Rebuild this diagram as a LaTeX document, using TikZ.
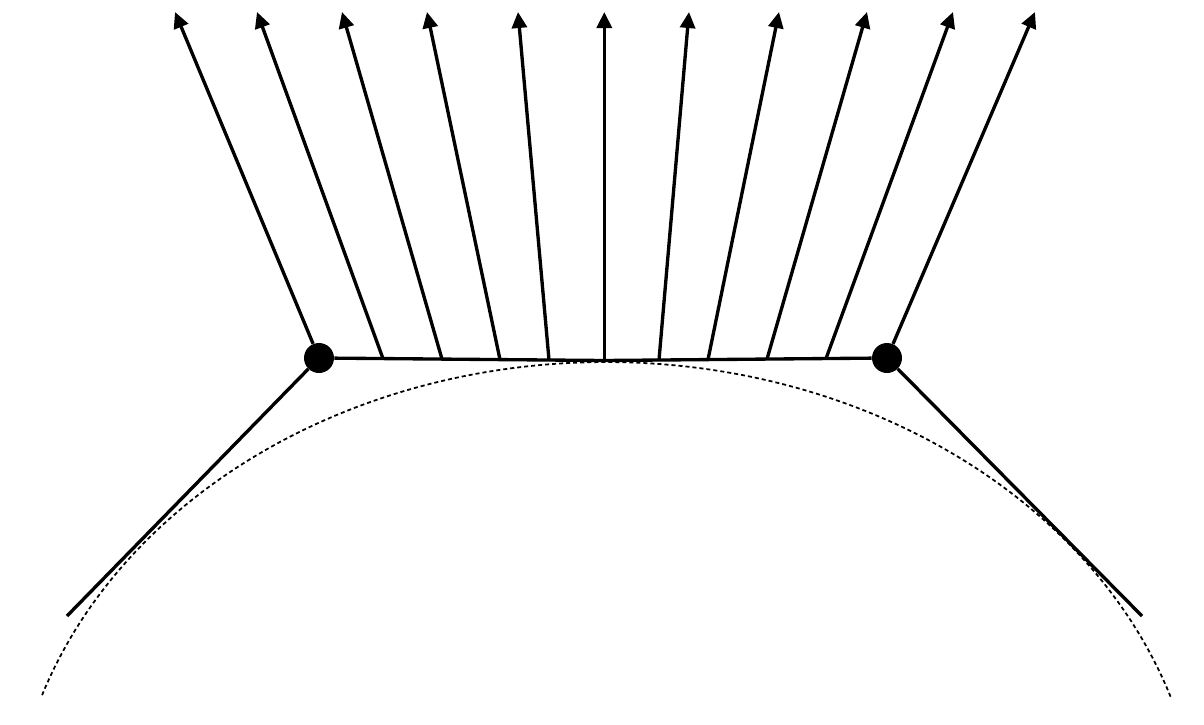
\documentclass[tikz,border=0pt]{standalone}
\usetikzlibrary{arrows.meta}
\begin{document}
\begin{tikzpicture}[x=0.02cm, y=-0.02cm,
			edge/.style={line width=1.9pt},
			normal/.style={line width=1.9pt, -{Triangle[length=0.32cm, width=0.3cm]}},
			vertex/.style={shape=circle, fill, inner sep=0pt, minimum size=0.6cm},
			surface/.style={line width=1pt, dash pattern=on 2.3pt off 1.7pt}]

			\useasboundingbox (0,0) rectangle (1204,724);

			% surface
			\draw[surface] plot[domain=18.4:161.6, samples=120] ({606+595*cos(\x)}, {851-489*sin(\x)});

			\node[vertex] (vl) at (319,358) {};
			\node[vertex] (vr) at (887,358) {};
			\coordinate (mid) at (604,360.5);
			\coordinate (el) at (67,616);
			\coordinate (er) at (1142,616);
			\coordinate (tl) at (175,12);
			\coordinate (tr) at (1035,12);

			\draw[edge] (vl) -- (mid) -- (vr);
			\draw[edge] (vl) -- (el);
			\draw[edge] (vr) -- (er);

			% interpolated normals
			\draw[normal] (vl) -- (tl);
			\draw[normal] (vr) -- (tr);
			\foreach \bx/\by/\tx [count=\i] in {383/358.6/257, 442/359.1/342, 500/359.6/427, 549/360/518,
					604.3/360.5/604.3, 659/360/689, 708/359.6/779, 767/359.1/867, 826/358.6/953}
			{
				\coordinate (b\i) at (\bx,\by);
				\coordinate (t\i) at (\tx,12);
				\draw[normal] (b\i) -- (t\i);
			}
\end{tikzpicture}
\end{document}
